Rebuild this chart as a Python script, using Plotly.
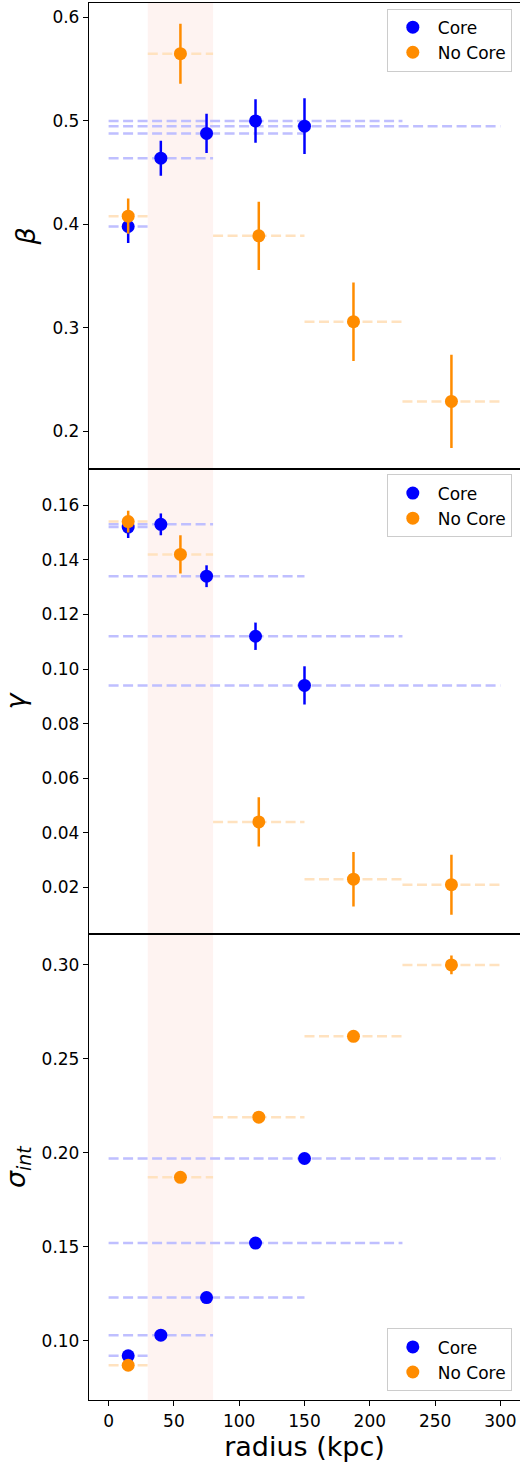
import plotly.graph_objects as go
from plotly.subplots import make_subplots

# ---------------- data ----------------
core_r = [15, 40, 75, 112.5, 150]
core_lo = [0, 0, 0, 0, 0]
core_hi = [30, 80, 150, 225, 300]

nocore_r = [15, 55, 115, 187.5, 262.5]
nocore_lo = [0, 30, 80, 150, 225]
nocore_hi = [30, 80, 150, 225, 300]

beta_core = [0.398, 0.464, 0.488, 0.500, 0.495]
beta_core_err = [0.016, 0.017, 0.019, 0.021, 0.027]
beta_nocore = [0.408, 0.565, 0.389, 0.306, 0.229]
beta_nocore_err = [0.017, 0.029, 0.033, 0.038, 0.045]

gamma_core = [0.152, 0.153, 0.134, 0.112, 0.094]
gamma_core_err = [0.004, 0.004, 0.004, 0.005, 0.007]
gamma_nocore = [0.154, 0.142, 0.044, 0.023, 0.021]
gamma_nocore_err = [0.004, 0.007, 0.009, 0.010, 0.011]

sig_core = [0.092, 0.103, 0.123, 0.152, 0.197]
sig_core_err = [0.001, 0.001, 0.001, 0.001, 0.001]
sig_nocore = [0.087, 0.187, 0.219, 0.262, 0.300]
sig_nocore_err = [0.002, 0.003, 0.003, 0.003, 0.005]

shade = [30, 80]

x_ticks = [0, 50, 100, 150, 200, 250, 300]
beta_ticks = [0.2, 0.3, 0.4, 0.5, 0.6]
gamma_ticks = [0.02, 0.04, 0.06, 0.08, 0.10, 0.12, 0.14, 0.16]
sig_ticks = [0.10, 0.15, 0.20, 0.25, 0.30]

# ---------------- style ----------------
BLUE = "#0000ff"
ORANGE = "#ff8c00"
BLUE_L = "#bfbfff"
ORANGE_L = "#ffe2bf"
FONT = "DejaVu Sans"

fig = make_subplots(rows=3, cols=1, shared_xaxes=True, vertical_spacing=0)


def seg(lo, hi, y):
    xs, ys = [], []
    for a, b, v in zip(lo, hi, y):
        xs += [a, b, None]
        ys += [v, v, None]
    return xs, ys


panels = [
    (beta_core, beta_core_err, beta_nocore, beta_nocore_err, "legend"),
    (gamma_core, gamma_core_err, gamma_nocore, gamma_nocore_err, "legend2"),
    (sig_core, sig_core_err, sig_nocore, sig_nocore_err, "legend3"),
]

for i, (yc, ec, yn, en, leg) in enumerate(panels, start=1):
    xs, ys = seg(core_lo, core_hi, yc)
    fig.add_trace(go.Scatter(x=xs, y=ys, mode="lines",
                             line=dict(color=BLUE_L, width=2.5, dash="10px,4.5px"),
                             showlegend=False, hoverinfo="skip"), row=i, col=1)
    xs, ys = seg(nocore_lo, nocore_hi, yn)
    fig.add_trace(go.Scatter(x=xs, y=ys, mode="lines",
                             line=dict(color=ORANGE_L, width=2.5, dash="10px,4.5px"),
                             showlegend=False, hoverinfo="skip"), row=i, col=1)
    fig.add_trace(go.Scatter(x=core_r, y=yc, mode="markers", name="Core",
                             marker=dict(color=BLUE, size=13),
                             error_y=dict(type="data", array=ec, color=BLUE,
                                          thickness=2.5, width=0),
                             legend=leg), row=i, col=1)
    fig.add_trace(go.Scatter(x=nocore_r, y=yn, mode="markers", name="No Core",
                             marker=dict(color=ORANGE, size=13),
                             error_y=dict(type="data", array=en, color=ORANGE,
                                          thickness=2.5, width=0),
                             legend=leg), row=i, col=1)
    xr = "x" if i == 1 else f"x{i}"
    yr = "y" if i == 1 else f"y{i}"
    fig.add_shape(type="rect", xref=xr, yref=f"{yr} domain",
                  x0=shade[0], x1=shade[1], y0=0, y1=1,
                  fillcolor="#fef3f1", line_width=0, layer="below")

axis_common = dict(showline=True, linecolor="black", linewidth=1.3,
                   ticks="outside", ticklen=5, tickwidth=1.3, tickcolor="black",
                   showgrid=False, zeroline=False,
                   tickfont=dict(family=FONT, size=17, color="black"))

for i in range(1, 4):
    fig.update_xaxes(range=[-15, 315], mirror=True, tickvals=x_ticks,
                     row=i, col=1, **axis_common)
fig.update_xaxes(ticks="", showticklabels=False, row=1, col=1)
fig.update_xaxes(ticks="", showticklabels=False, row=2, col=1)
fig.update_xaxes(title=dict(text="radius (kpc)", font=dict(family=FONT, size=27, color="black"),
                            standoff=6), row=3, col=1)

fig.update_yaxes(range=[0.164, 0.614], tickvals=beta_ticks, tickformat=".1f",
                 title=dict(text="<i>β</i>", font=dict(family=FONT, size=27, color="black"),
                            standoff=8),
                 row=1, col=1, **axis_common)
fig.update_yaxes(range=[0.0028, 0.1734], tickvals=gamma_ticks, tickformat=".2f",
                 title=dict(text="<i>γ</i>", font=dict(family=FONT, size=27, color="black"),
                            standoff=8),
                 row=2, col=1, **axis_common)
fig.update_yaxes(range=[0.0685, 0.3163], tickvals=sig_ticks, tickformat=".2f",
                 title=dict(text="<i>σ</i><sub><i>int</i></sub>",
                            font=dict(family=FONT, size=27, color="black"), standoff=8),
                 row=3, col=1, **axis_common)

leg_style = dict(bgcolor="rgba(255,255,255,0.8)", bordercolor="#cccccc", borderwidth=1,
                 font=dict(family=FONT, size=17, color="black"), itemwidth=40,
                 xanchor="right", x=0.981)
fig.update_layout(
    width=520, height=1467,
    margin=dict(l=89, r=0, t=3, b=67),
    plot_bgcolor="white", paper_bgcolor="white",
    font=dict(family=FONT, color="black"),
    legend=dict(yanchor="top", y=0.996, **leg_style),
    legend2=dict(yanchor="top", y=0.6625, **leg_style),
    legend3=dict(yanchor="bottom", y=0.0062, **leg_style),
)

fig.write_html("out.html", config={"displayModeBar": False},
               post_script="document.body.style.margin='0';document.body.style.overflow='hidden';")
